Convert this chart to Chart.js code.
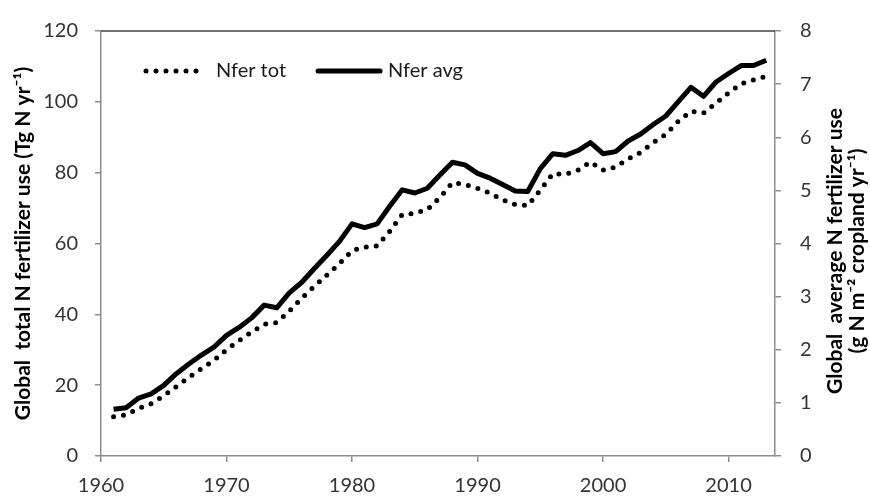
<!DOCTYPE html>
<html lang="en">
<head>
  <meta charset="UTF-8">
  <title>Global N fertilizer use</title>
  <script src="https://cdn.jsdelivr.net/npm/chart.js"></script>
  <style>
    html, body { margin: 0; padding: 0; background: #fff; }
    #wrap { width: 870px; height: 498px; }
  </style>
</head>
<body>
  <div id="wrap"><canvas id="myChart" width="870" height="498"></canvas></div>

  <script>
    // years of the record
    const years = [
      1961, 1962, 1963, 1964, 1965, 1966, 1967, 1968, 1969, 1970,
      1971, 1972, 1973, 1974, 1975, 1976, 1977, 1978, 1979, 1980,
      1981, 1982, 1983, 1984, 1985, 1986, 1987, 1988, 1989, 1990,
      1991, 1992, 1993, 1994, 1995, 1996, 1997, 1998, 1999, 2000,
      2001, 2002, 2003, 2004, 2005, 2006, 2007, 2008, 2009, 2010,
      2011, 2012, 2013
    ];

    // Nfer tot, Tg N per year (left axis)
    const nferTot = [
      11.1, 11.6, 13.4, 14.8, 17.0, 19.6, 22.2, 24.7, 27.0, 30.0,
      32.6, 35.0, 37.2, 37.7, 40.9, 44.6, 47.9, 51.1, 54.3, 58.0,
      59.0, 59.3, 63.4, 68.2, 68.5, 69.6, 73.0, 77.2, 76.7, 75.6,
      74.2, 72.3, 71.0, 70.7, 75.1, 79.7, 79.5, 80.7, 83.0, 80.7,
      81.6, 83.9, 85.7, 88.5, 90.8, 94.5, 97.3, 96.8, 99.6, 102.5,
      105.1, 106.2, 107.2
    ];

    // Nfer avg, g N per m2 cropland per year (right axis)
    const nferAvg = [
      0.88, 0.91, 1.09, 1.17, 1.33, 1.55, 1.73, 1.90, 2.05, 2.27,
      2.42, 2.60, 2.84, 2.79, 3.07, 3.27, 3.53, 3.78, 4.04, 4.37,
      4.30, 4.37, 4.70, 5.01, 4.95, 5.04, 5.29, 5.53, 5.48, 5.32,
      5.23, 5.11, 4.99, 4.98, 5.41, 5.69, 5.66, 5.75, 5.90, 5.69,
      5.73, 5.93, 6.06, 6.24, 6.40, 6.67, 6.94, 6.77, 7.04, 7.20,
      7.35, 7.35, 7.45
    ];

    const xTicks = [1960, 1970, 1980, 1990, 2000, 2010];
    const leftTitle = 'Global  total N fertilizer use (Tg N yr\u207B\u00B9)';
    const rightTitle = ['Global  average N fertilizer use', '(g N m\u207B\u00B2 cropland yr\u207B\u00B9)'];

    const FONT = 'Lato';
    const axisGray = '#8c8c8c';
    const tickColor = '#333';

    // top frame line, right axis title (bottom-to-top like the left one)
    // and the legend inside the plot area
    const framePlugin = {
      id: 'frame',
      afterDraw(chart) {
        const { ctx, chartArea } = chart;
        ctx.save();
        ctx.strokeStyle = '#444';
        ctx.lineWidth = 1.5;
        ctx.beginPath();
        ctx.moveTo(chartArea.left, chartArea.top);
        ctx.lineTo(chartArea.right, chartArea.top);
        ctx.stroke();

        // legend
        ctx.font = '20px ' + FONT;
        ctx.textBaseline = 'middle';
        ctx.textAlign = 'left';
        let x = chartArea.left + 43;
        const y = chartArea.top + 40;
        chart.data.datasets.forEach((ds, i) => {
          ctx.strokeStyle = ds.borderColor;
          ctx.lineWidth = ds.borderWidth;
          ctx.lineCap = 'round';
          ctx.setLineDash(ds.borderDash || []);
          ctx.beginPath();
          ctx.moveTo(x + 2, y);
          ctx.lineTo(x + (ds.borderDash ? 56 : 64), y);
          ctx.stroke();
          ctx.setLineDash([]);
          ctx.fillStyle = '#1a1a1a';
          ctx.fillText(ds.label, x + 72, y);
          x += 72 + ctx.measureText(ds.label).width + 30;
        });

        // right axis title
        ctx.fillStyle = '#000';
        ctx.font = 'bold 21px ' + FONT;
        ctx.textAlign = 'center';
        ctx.translate(835, 251);
        ctx.rotate(-Math.PI / 2);
        rightTitle.forEach((t, i) => ctx.fillText(t, 0, i * 22));
        ctx.restore();
      }
    };

    const ctx = document.getElementById('myChart').getContext('2d');
    const myChart = new Chart(ctx, {
      type: 'line',
      data: {
        datasets: [{
          label: 'Nfer tot',
          data: years.map((y, i) => ({ x: y, y: nferTot[i] })),
          yAxisID: 'y',
          borderColor: '#000',
          borderWidth: 5,
          borderDash: [0, 10],
          borderCapStyle: 'round',
          pointRadius: 0,
          fill: false
        }, {
          label: 'Nfer avg',
          data: years.map((y, i) => ({ x: y, y: nferAvg[i] })),
          yAxisID: 'y2',
          borderColor: '#000',
          borderWidth: 5,
          borderCapStyle: 'butt',
          borderJoinStyle: 'round',
          pointRadius: 0,
          fill: false
        }]
      },
      options: {
        responsive: false,
        animation: false,
        layout: { padding: { top: 23, left: 0, right: 0, bottom: 0 } },
        plugins: {
          tooltip: { enabled: false },
          legend: { display: false }
        },
        scales: {
          x: {
            type: 'linear',
            position: 'bottom',
            min: 1960,
            max: 2013.7,
            afterBuildTicks: s => { s.ticks = xTicks.map(v => ({ value: v })); },
            afterFit: s => { s.height = 42; },
            ticks: {
              font: { family: FONT, size: 20 },
              color: tickColor,
              padding: 12,
              maxRotation: 0,
              callback: v => String(v)
            },
            grid: { drawOnChartArea: false, tickLength: 6, color: axisGray, lineWidth: 1.5 },
            border: { color: axisGray, width: 1.5 }
          },
          y: {
            type: 'linear',
            position: 'left',
            min: 0,
            max: 120,
            afterFit: s => { s.width = 101; },
            ticks: {
              stepSize: 20,
              font: { family: FONT, size: 20 },
              color: tickColor,
              padding: 17
            },
            grid: { drawOnChartArea: false, tickLength: 6, color: axisGray, lineWidth: 1.5 },
            border: { color: axisGray, width: 1.5 },
            title: {
              display: true,
              text: leftTitle,
              font: { family: FONT, size: 21, weight: 'bold' },
              color: '#000',
              padding: { top: 11, bottom: 0 }
            }
          },
          y2: {
            type: 'linear',
            position: 'right',
            min: 0,
            max: 8,
            afterFit: s => { s.width = 95; },
            ticks: {
              stepSize: 1,
              font: { family: FONT, size: 20 },
              color: tickColor,
              padding: 19
            },
            grid: { drawOnChartArea: false, tickLength: 6, color: axisGray, lineWidth: 1.5 },
            border: { color: axisGray, width: 1.5 }
          }
        }
      },
      plugins: [framePlugin]
    });
  </script>
</body>
</html>
